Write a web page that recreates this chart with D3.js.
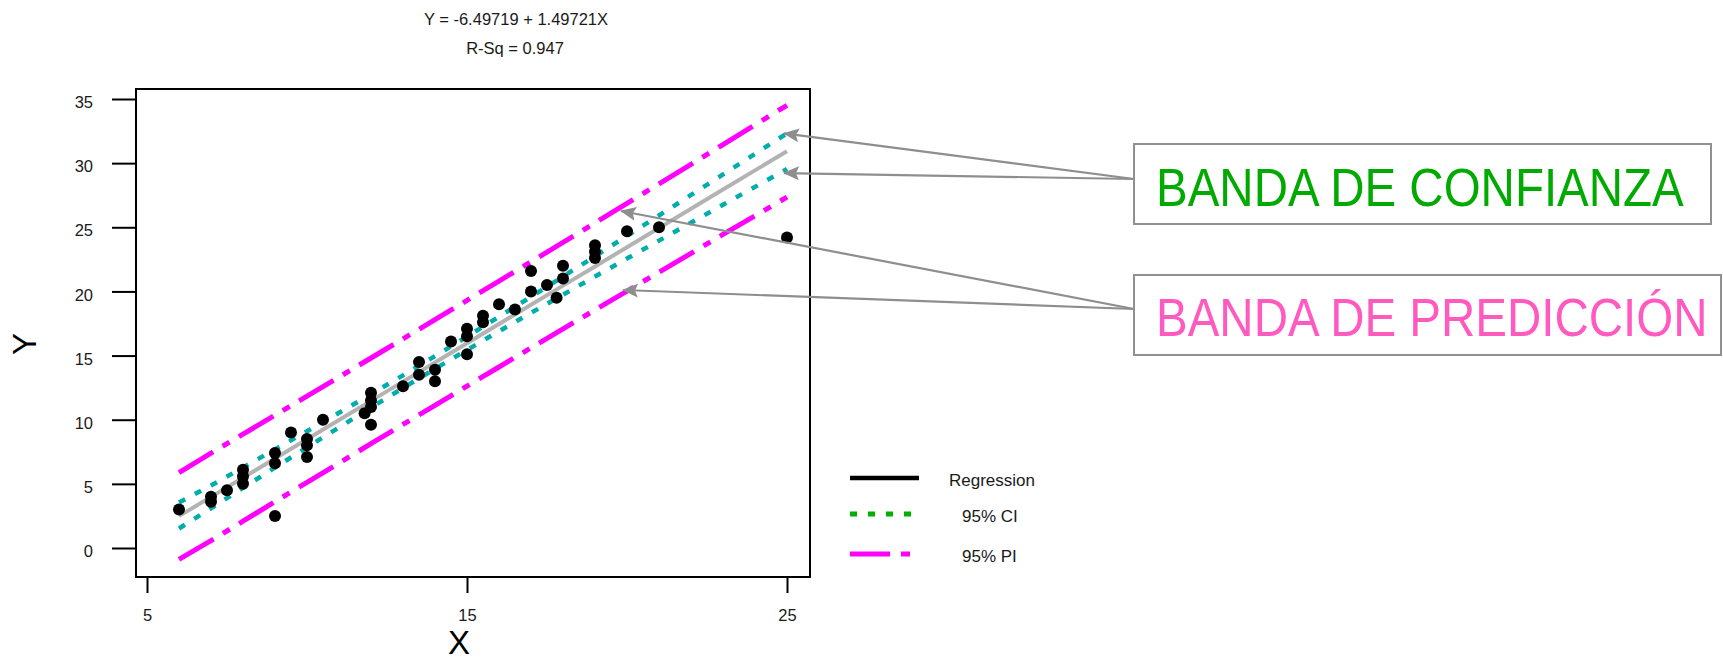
<!DOCTYPE html>
<html>
<head>
<meta charset="utf-8">
<script src="https://cdn.jsdelivr.net/npm/d3@7"></script>
<style>
  html, body { margin: 0; padding: 0; background: #fff; }
  svg { display: block; }
  text { font-family: "Liberation Sans", Arial, sans-serif; }
</style>
</head>
<body>
<svg id="chart" width="1723" height="662"></svg>
<script>
// Observations (X, Y)
const xs = [6, 7, 7, 7.5, 8, 8, 8, 9, 9, 9, 9.5, 10, 10, 10, 10.5,
            12, 12, 12, 11.8, 12, 13, 13.5, 13.5, 14, 14, 14.5, 15, 15, 15,
            15.5, 15.5, 16, 16.5, 17, 17, 17.5, 17.8, 18, 18, 19, 19, 19, 20, 21, 25];
const ys = [3.0, 4.0, 3.6, 4.5, 6.1, 5.6, 5.0, 2.5, 7.4, 6.6, 9.0, 8.5, 8.0, 7.1, 10.0,
            12.1, 11.5, 11.0, 10.5, 9.6, 12.6, 14.5, 13.5, 13.9, 13.0, 16.1, 17.1, 16.5, 15.1,
            18.1, 17.6, 19.0, 18.6, 20.0, 21.6, 20.5, 19.5, 22.0, 21.0, 23.6, 23.1, 22.6, 24.7, 25.0, 24.2];

// Fitted line
const intercept = -6.49719;
const slope = 1.49721;
const rSq = 0.947;

// Confidence and prediction bands
const bandX = [6, 7, 8, 9, 10, 11, 12, 13, 14, 15, 16, 17, 18, 19, 20, 21, 22, 23, 24, 25];
const ciLow  = [1.52, 3.10, 4.69, 6.27, 7.85, 9.40, 10.95, 12.47, 13.97, 15.44, 16.89, 18.33, 19.74, 21.16, 22.56, 23.96, 25.36, 26.76, 28.15, 29.54];
const ciHigh = [3.55, 4.87, 6.27, 7.69, 9.10, 10.54, 11.99, 13.46, 14.96, 16.48, 18.03, 19.58, 21.16, 22.74, 24.33, 25.92, 27.52, 29.12, 30.72, 32.32];
const piLow  = [-0.88, 0.57, 2.09, 3.61, 5.12, 6.62, 8.13, 9.63, 11.12, 12.62, 14.11, 15.60, 17.08, 18.56, 20.03, 21.50, 22.97, 24.44, 25.89, 27.35];
const piHigh = [5.87, 7.40, 8.87, 10.35, 11.84, 13.32, 14.81, 16.30, 17.80, 19.30, 20.81, 22.31, 23.82, 25.34, 26.87, 28.39, 29.91, 31.44, 32.98, 34.51];

// Axis ticks
const xTicks = [5, 15, 25];
const yTicks = [0, 5, 10, 15, 20, 25, 30, 35];

// Legend and callouts
const legendLabels = ["Regression", "95% CI", "95% PI"];
const calloutLabels = ["BANDA DE CONFIANZA", "BANDA DE PREDICCIÓN"];

const svg = d3.select("#chart");

const frame = { left: 136, top: 89, right: 810, bottom: 577 };
const x = d3.scaleLinear().domain([5, 25]).range([147, 787]);
const y = d3.scaleLinear().domain([0, 35]).range([548, 99]);

// Arrowhead
const defs = svg.append("defs");
defs.append("marker")
  .attr("id", "arrowHead")
  .attr("markerUnits", "userSpaceOnUse")
  .attr("viewBox", "0 0 16 14")
  .attr("refX", 15).attr("refY", 7)
  .attr("markerWidth", 16).attr("markerHeight", 14)
  .attr("orient", "auto")
  .append("path")
  .attr("d", "M0,0 L16,7 L0,14 L3,7 Z")
  .attr("fill", "#8e8e8e");

// Titles
svg.append("text")
  .attr("x", 516).attr("y", 25)
  .attr("text-anchor", "middle")
  .attr("font-size", 16.5).attr("fill", "#1a1a1a")
  .text(`Y = ${intercept} + ${slope}X`);
svg.append("text")
  .attr("x", 515).attr("y", 54)
  .attr("text-anchor", "middle")
  .attr("font-size", 16.5).attr("fill", "#1a1a1a")
  .text(`R-Sq = ${rSq}`);

// Axes
const yAxis = d3.axisLeft(y).tickValues(yTicks).tickSizeInner(24).tickSizeOuter(0).tickPadding(19);
const gy = svg.append("g").attr("transform", `translate(${frame.left},0)`).call(yAxis);
gy.select(".domain").remove();
gy.selectAll(".tick line").attr("stroke", "#000").attr("stroke-width", 2);
gy.selectAll(".tick text").attr("font-size", 16.5).attr("fill", "#1a1a1a")
  .attr("font-family", "Liberation Sans, Arial, sans-serif").attr("dy", "0.52em");

const xAxis = d3.axisBottom(x).tickValues(xTicks).tickSizeInner(16).tickSizeOuter(0).tickPadding(16);
const gx = svg.append("g").attr("transform", `translate(0,${frame.bottom})`).call(xAxis);
gx.select(".domain").remove();
gx.selectAll(".tick line").attr("stroke", "#000").attr("stroke-width", 2);
gx.selectAll(".tick text").attr("font-size", 16.5).attr("fill", "#1a1a1a")
  .attr("font-family", "Liberation Sans, Arial, sans-serif");

// Plot frame
svg.append("rect")
  .attr("x", frame.left).attr("y", frame.top)
  .attr("width", frame.right - frame.left).attr("height", frame.bottom - frame.top)
  .attr("fill", "none").attr("stroke", "#000").attr("stroke-width", 2);

// Axis titles
svg.append("text")
  .attr("transform", "translate(36,344) rotate(-90)")
  .attr("text-anchor", "middle")
  .attr("font-size", 33).attr("fill", "#000")
  .text("Y");
svg.append("text")
  .attr("x", 459).attr("y", 654)
  .attr("text-anchor", "middle")
  .attr("font-size", 33).attr("fill", "#000")
  .text("X");

// Band and fit lines
const bandLine = (vals) => d3.line()
  .x((d, i) => x(bandX[i]))
  .y((d, i) => y(vals[i]))(bandX);

const plot = svg.append("g");

[piHigh, piLow].forEach(vals => {
  plot.append("path")
    .attr("d", bandLine(vals))
    .attr("fill", "none").attr("stroke", "#ff00ff").attr("stroke-width", 5)
    .attr("stroke-dasharray", "40,11,8,11");
});

plot.append("path")
  .attr("d", bandLine(bandX.map(v => intercept + slope * v)))
  .attr("fill", "none").attr("stroke", "#b3b3b3").attr("stroke-width", 4);

[ciHigh, ciLow].forEach(vals => {
  plot.append("path")
    .attr("d", bandLine(vals))
    .attr("fill", "none").attr("stroke", "#00adad").attr("stroke-width", 4.5)
    .attr("stroke-dasharray", "7,11");
});

// Data points
plot.selectAll("circle.obs")
  .data(xs.map((v, i) => ({ x: v, y: ys[i] })))
  .join("circle")
  .attr("class", "obs")
  .attr("cx", d => x(d.x)).attr("cy", d => y(d.y))
  .attr("r", 6).attr("fill", "#000");

// Legend
const legend = svg.append("g");
const legendItems = [
  { label: legendLabels[0], color: "#000", width: 4.5, dash: null, y: 478, tx: 949 },
  { label: legendLabels[1], color: "#00b000", width: 5, dash: "7,11", y: 514, tx: 962 },
  { label: legendLabels[2], color: "#ff00ff", width: 5, dash: "40,11,9,11", y: 554, tx: 962 }
];
legendItems.forEach(it => {
  legend.append("line")
    .attr("x1", 850).attr("x2", 919).attr("y1", it.y).attr("y2", it.y)
    .attr("stroke", it.color).attr("stroke-width", it.width)
    .attr("stroke-dasharray", it.dash);
  legend.append("text")
    .attr("x", it.tx).attr("y", it.y + 8)
    .attr("font-size", 17).attr("fill", "#1a1a1a")
    .text(it.label);
});

// Callout arrows
const arrows = [
  { from: [1134, 179], to: [x(25) - 3, y(ciHigh[19])] },
  { from: [1134, 179], to: [x(25) - 3, y(ciLow[19]) + 4] },
  { from: [1134, 309], to: [621, 211] },
  { from: [1134, 309], to: [623, 290] }
];
arrows.forEach(a => {
  svg.append("line")
    .attr("x1", a.from[0]).attr("y1", a.from[1])
    .attr("x2", a.to[0]).attr("y2", a.to[1])
    .attr("stroke", "#8e8e8e").attr("stroke-width", 2.2)
    .attr("marker-end", "url(#arrowHead)");
});

// Callout boxes
const boxes = [
  { label: calloutLabels[0], color: "#00aa00", x: 1134, y: 144, w: 577, h: 80, base: 206 },
  { label: calloutLabels[1], color: "#ff5abf", x: 1134, y: 275, w: 587, h: 80, base: 336 }
];
boxes.forEach(b => {
  svg.append("rect")
    .attr("x", b.x).attr("y", b.y).attr("width", b.w).attr("height", b.h)
    .attr("fill", "#fff").attr("stroke", "#909090").attr("stroke-width", 2);
  svg.append("text")
    .attr("transform", `translate(${b.x + 22},${b.base}) scale(1,1.13)`)
    .attr("font-size", 47.5).attr("fill", b.color)
    .text(b.label);
});
</script>
</body>
</html>
